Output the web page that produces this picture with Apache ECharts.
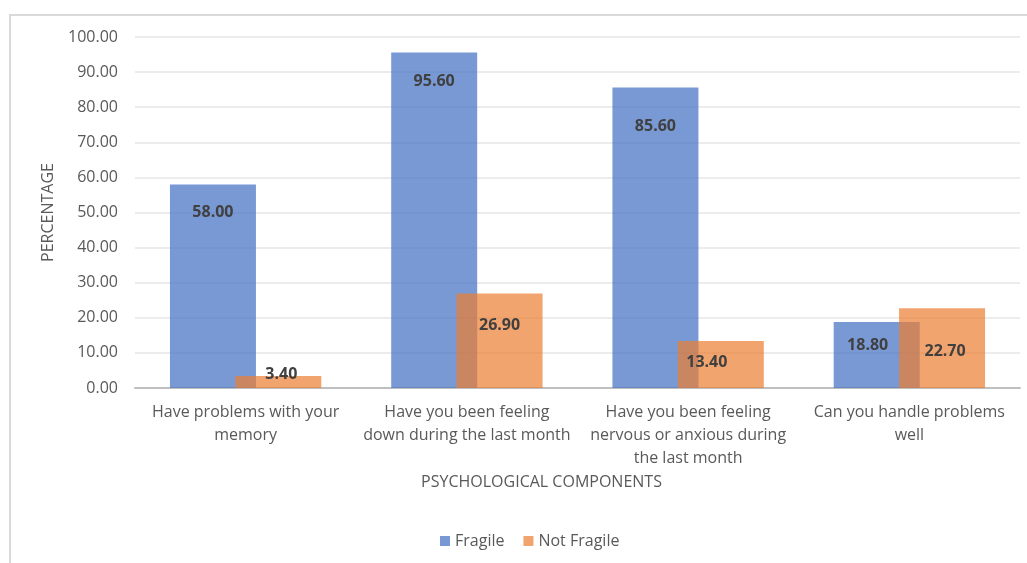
<!DOCTYPE html>
<html>
<head>
<meta charset="utf-8">
<script src="https://cdn.jsdelivr.net/npm/echarts@6/dist/echarts.min.js"></script>
<style>
  html, body { margin: 0; padding: 0; background: #fff; }
  #chart { width: 1027px; height: 563px; }
</style>
</head>
<body>
<div id="chart"></div>
<script>
// Psychological components by frailty status (percentages)
const categories = [
  'Have problems with your\nmemory',
  'Have you been feeling\ndown during the last month',
  'Have you been feeling\nnervous or anxious during\nthe last month',
  'Can you handle problems\nwell'
];
const fragile = [58.00, 95.60, 85.60, 18.80];
const notFragile = [3.40, 26.90, 13.40, 22.70];
const seriesNames = ['Fragile', 'Not Fragile'];
const yTicks = { min: 0, max: 100, interval: 10 };

const FONT = '"Open Sans", "Noto Sans", sans-serif';
const BLUE = 'rgba(68,114,196,0.72)';
const ORANGE = 'rgba(237,125,49,0.70)';

// label nudges (pixels) for each bar, per series
const fragileLabelShift = [[0, 20], [0, 21], [0, 31], [-9, 15]];
const notFragileLabelShift = [[3, -10], [0, 24], [-14, 13], [3, 35]];

function withLabels(values, shifts) {
  return values.map((v, i) => ({
    value: v,
    label: { offset: shifts[i] }
  }));
}

const labelStyle = {
  show: true,
  position: 'insideTop',
  distance: 0,
  fontFamily: FONT,
  fontSize: 16,
  fontWeight: 'bold',
  color: '#404040',
  formatter: p => p.value.toFixed(2)
};

const chart = echarts.init(document.getElementById('chart'));
chart.setOption({
  animation: false,
  backgroundColor: '#fff',
  textStyle: { fontFamily: FONT },
  graphic: [{
    type: 'rect',
    shape: { x: 10, y: 15, width: 1030, height: 560 },
    style: { fill: 'none', stroke: '#D9D9D9', lineWidth: 2 },
    silent: true
  }],
  grid: { left: 135, right: 7, top: 37, bottom: 175 },
  legend: {
    bottom: 9,
    left: 435,
    itemWidth: 10,
    itemHeight: 10,
    itemGap: 19,
    icon: 'rect',
    textStyle: { fontFamily: FONT, fontSize: 16, color: '#595959' },
    data: seriesNames
  },
  xAxis: {
    type: 'category',
    data: categories,
    name: 'PSYCHOLOGICAL COMPONENTS',
    nameLocation: 'middle',
    nameGap: 85,
    nameTextStyle: { fontFamily: FONT, fontSize: 16, color: '#595959', padding: [0, 72, 0, 0] },
    axisLine: { lineStyle: { color: '#BFBFBF', width: 2 } },
    axisTick: { show: false },
    axisLabel: {
      interval: 0,
      margin: 13,
      fontFamily: FONT,
      fontSize: 16,
      lineHeight: 23,
      color: '#595959'
    }
  },
  yAxis: {
    type: 'value',
    min: yTicks.min,
    max: yTicks.max,
    interval: yTicks.interval,
    name: 'PERCENTAGE',
    nameLocation: 'middle',
    nameGap: 79,
    nameTextStyle: { fontFamily: FONT, fontSize: 16, color: '#595959' },
    axisLine: { show: false },
    axisTick: { show: false },
    splitLine: { lineStyle: { color: '#E6E6E6', width: 1.5 } },
    axisLabel: {
      margin: 17,
      fontFamily: FONT,
      fontSize: 16,
      color: '#595959',
      formatter: v => v.toFixed(2)
    }
  },
  series: [
    {
      name: seriesNames[0],
      type: 'bar',
      data: withLabels(fragile, fragileLabelShift),
      barWidth: 86,
      barGap: '-24%',
      itemStyle: { color: BLUE },
      label: labelStyle
    },
    {
      name: seriesNames[1],
      type: 'bar',
      data: withLabels(notFragile, notFragileLabelShift),
      barWidth: 86,
      barGap: '-24%',
      itemStyle: { color: ORANGE },
      label: labelStyle
    }
  ]
});
</script>
</body>
</html>
